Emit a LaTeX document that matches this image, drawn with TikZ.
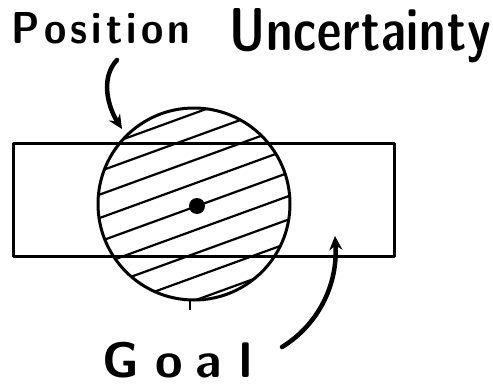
\documentclass[tikz,border=0pt]{standalone}
\usepackage{fontspec}
\usepackage{graphicx}
\usetikzlibrary{arrows.meta}
\newcommand{\lsp}{\kern0.1em}
\begin{document}
\begin{tikzpicture}[x=1pt,y=-1pt,
  hand/.style={line width=3pt, line cap=round, line join=round},
  hatchline/.style={line width=2.2pt, line cap=round},
  pointer/.style={line width=4.5pt, line cap=round, -{Stealth[length=14pt,width=13pt]}},
  lbl/.style={inner sep=0pt, outer sep=0pt, font=\sffamily\bfseries}]
\useasboundingbox (0,0) rectangle (493,388);
% goal rectangle
\node[hand, draw, minimum width=381pt, minimum height=113pt, inner sep=0pt] (goalbox) at (204,199.5) {};
% uncertainty circle
\node[hand, draw, circle, minimum size=192pt, inner sep=0pt] (circ) at (194,204) {};
% hatching
\begin{scope}
  \clip (194,204) circle (96pt);
  \foreach \k in {-4,...,4} {
    \draw[hatchline] ({197+7.52*\k-103.4},{206+20.67*\k+37.6}) -- ({197+7.52*\k+103.4},{206+20.67*\k-37.6});
  }
\end{scope}
% centre dot
\node[circle, fill, minimum size=16pt, inner sep=0pt] (dot) at (197,206) {};
% small stray tick
\draw[line width=1.5pt] (190,301) -- (190,310);
% labels
\node[lbl, anchor=base west] (pos) at (12,43) {\resizebox{178pt}{31pt}{P\lsp o\lsp s\lsp i\lsp t\lsp i\lsp o\lsp n}};
\node[lbl, anchor=base west] (unc) at (229,50) {\resizebox{262pt}{42pt}{U\kern0.02em n\kern0.02em c\kern0.02em e\kern0.02em r\kern0.02em t\kern0.02em a\kern0.02em i\kern0.02em n\kern0.02em t\kern0.02em y}};
\node[lbl, anchor=base west] (goal) at (102,377) {\fontsize{50}{60}\selectfont G\kern17pt o\kern12pt a\kern18pt l};
% pointers
\coordinate (p1) at (117,60);
\coordinate (p2) at (122,129);
\draw[pointer] (p1) .. controls (100,78) and (108,107) .. (p2);
\coordinate (g1) at (282,347);
\coordinate (g2) at (335,236);
\draw[pointer] (g1) .. controls (318,325) and (338,285) .. (g2);
\end{tikzpicture}
\end{document}
